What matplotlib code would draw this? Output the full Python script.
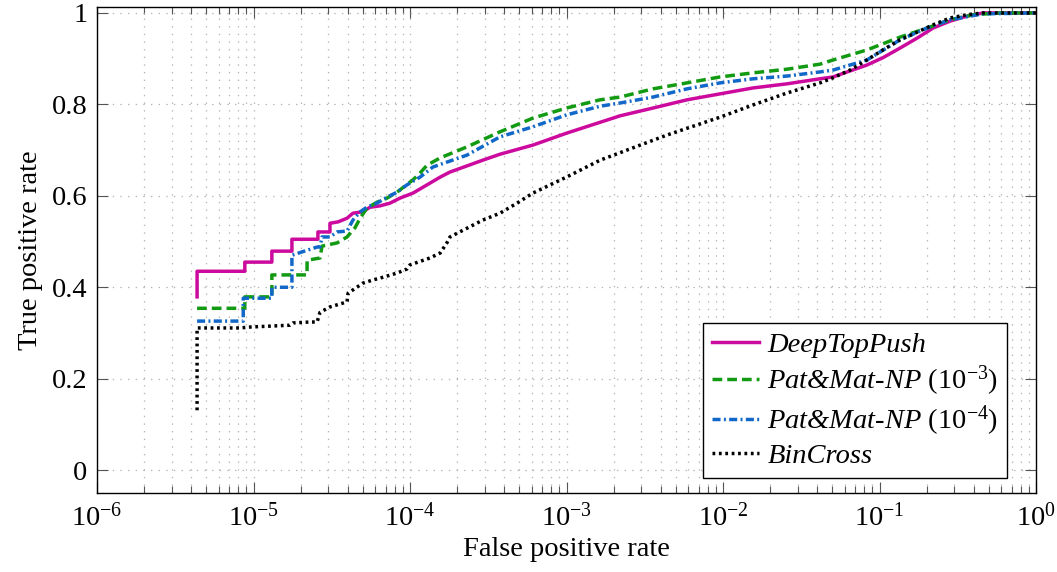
import matplotlib
matplotlib.use("Agg")
import matplotlib.pyplot as plt
from matplotlib.ticker import LogLocator, FixedLocator, FixedFormatter, NullFormatter

# ---------------- data ----------------
dtp_fpr = [4.36e-6, 4.36e-6, 8.8e-6, 8.8e-6, 1.31e-5, 1.31e-5, 1.76e-5, 1.76e-5,
           2.58e-5, 2.58e-5, 3.08e-5, 3.08e-5, 3.47e-5, 3.96e-5, 4.32e-5, 5.0e-5,
           5.55e-5, 6.43e-5, 7.45e-5, 8.63e-5, 1.045e-4, 1.285e-4, 1.56e-4, 1.8e-4,
           2.92e-4, 3.76e-4, 6.1e-4, 1.0e-3, 2.2e-3, 3.57e-3, 5.89e-3, 9.57e-3,
           1.56e-2, 2.57e-2, 4.17e-2, 5.04e-2, 8.3e-2, 0.105, 0.135, 0.174, 0.22,
           0.282, 0.362, 0.458, 1.0]
dtp_tpr = [0.379, 0.435, 0.435, 0.455, 0.455, 0.479, 0.479, 0.505,
           0.505, 0.521, 0.521, 0.540, 0.543, 0.551, 0.562, 0.565,
           0.575, 0.578, 0.584, 0.595, 0.606, 0.624, 0.641, 0.652,
           0.678, 0.691, 0.711, 0.737, 0.775, 0.792, 0.810, 0.823,
           0.836, 0.845, 0.856, 0.860, 0.886, 0.902, 0.923, 0.945, 0.967,
           0.982, 0.993, 1.0, 1.0]

pm3_fpr = [4.36e-6, 8.8e-6, 8.8e-6, 1.31e-5, 1.31e-5, 2.2e-5, 2.2e-5, 2.66e-5,
           2.74e-5, 3.42e-5, 3.96e-5, 4.45e-5, 4.8e-5, 5.3e-5, 6.15e-5, 7.13e-5,
           8.26e-5, 1.045e-4, 1.16e-4, 1.285e-4, 1.56e-4, 2.31e-4, 3.76e-4, 6.1e-4,
           1.0e-3, 1.64e-3, 2.2e-3, 3.57e-3, 5.89e-3, 9.57e-3, 1.56e-2, 2.57e-2,
           4.17e-2, 5.04e-2, 8.3e-2, 0.135, 0.201, 0.282, 0.395, 0.589, 1.0]
pm3_tpr = [0.354, 0.354, 0.379, 0.379, 0.427, 0.427, 0.459, 0.464,
           0.490, 0.497, 0.510, 0.530, 0.551, 0.573, 0.586, 0.595,
           0.608, 0.635, 0.650, 0.667, 0.683, 0.707, 0.740, 0.770,
           0.792, 0.810, 0.816, 0.834, 0.847, 0.860, 0.869, 0.877,
           0.888, 0.897, 0.919, 0.947, 0.967, 0.985, 0.996, 1.0, 1.0]

pm4_fpr = [4.36e-6, 8.6e-6, 8.6e-6, 1.31e-5, 1.31e-5, 1.76e-5, 1.76e-5, 2.07e-5,
           2.55e-5, 2.66e-5, 2.74e-5, 3.08e-5, 3.42e-5, 3.96e-5, 4.32e-5, 4.8e-5,
           5.3e-5, 6.15e-5, 7.13e-5, 8.26e-5, 9.57e-5, 1.16e-4, 1.40e-4, 2.31e-4,
           3.76e-4, 6.1e-4, 1.0e-3, 1.64e-3, 2.2e-3, 3.57e-3, 5.89e-3, 9.57e-3,
           1.56e-2, 2.57e-2, 4.17e-2, 5.04e-2, 8.3e-2, 0.135, 0.201, 0.282, 0.458, 1.0]
pm4_tpr = [0.326, 0.326, 0.376, 0.376, 0.400, 0.400, 0.470, 0.478,
           0.488, 0.488, 0.510, 0.510, 0.521, 0.523, 0.547, 0.565,
           0.575, 0.584, 0.597, 0.608, 0.624, 0.641, 0.663, 0.689,
           0.729, 0.751, 0.777, 0.796, 0.803, 0.816, 0.834, 0.847,
           0.856, 0.862, 0.871, 0.875, 0.897, 0.941, 0.967, 0.985, 0.998, 1.0]

bc_fpr = [4.36e-6, 4.36e-6, 8.2e-6, 9.5e-6, 1.71e-5, 1.79e-5, 2.3e-5, 2.55e-5,
          2.66e-5, 3.08e-5, 3.96e-5, 4.02e-5, 5.0e-5, 5.8e-5, 6.43e-5, 8.26e-5,
          9.57e-5, 1.0e-4, 1.34e-4, 1.56e-4, 1.72e-4, 1.8e-4, 2.92e-4, 3.76e-4,
          4.83e-4, 6.1e-4, 1.0e-3, 1.64e-3, 2.66e-3, 4.39e-3, 9.57e-3, 1.56e-2,
          2.57e-2, 4.17e-2, 5.04e-2, 6.48e-2, 8.3e-2, 0.105, 0.135, 0.174, 0.22,
          0.282, 0.362, 0.458, 1.0]
bc_tpr = [0.131, 0.311, 0.311, 0.313, 0.317, 0.322, 0.324, 0.324,
          0.345, 0.357, 0.368, 0.387, 0.409, 0.416, 0.420, 0.431,
          0.440, 0.449, 0.464, 0.475, 0.497, 0.510, 0.547, 0.562,
          0.584, 0.606, 0.641, 0.678, 0.705, 0.733, 0.772, 0.799,
          0.825, 0.847, 0.858, 0.875, 0.897, 0.919, 0.941, 0.958, 0.974,
          0.989, 0.996, 1.0, 1.0]

series_labels = ["DeepTopPush", r"Pat&Mat-NP $(10^{-3})$",
                 r"Pat&Mat-NP $(10^{-4})$", "BinCross"]
ytick_vals = [0, 0.2, 0.4, 0.6, 0.8, 1.0]
ytick_labels = ["0", "0.2", "0.4", "0.6", "0.8", "1"]
x_label = "False positive rate"
y_label = "True positive rate"

# ---------------- style ----------------
plt.rcParams["font.family"] = ["Liberation Serif", "DejaVu Serif"]
plt.rcParams["mathtext.fontset"] = "custom"
plt.rcParams["mathtext.rm"] = "Liberation Serif"
plt.rcParams["mathtext.it"] = "Liberation Serif:italic"
plt.rcParams["mathtext.bf"] = "Liberation Serif:bold"
plt.rcParams["lines.scale_dashes"] = False
FS = 20.5

fig = plt.figure(figsize=(10.57, 5.72), dpi=100)
ax = fig.add_axes([97 / 1057, 1 - 493 / 572, (1036 - 97) / 1057, (493 - 7) / 572])

c_mag = "#cc0a9e"
c_grn = "#129a12"
c_blu = "#1168c8"
c_blk = "#000000"
lw = 2.5

ax.plot(dtp_fpr, dtp_tpr, color=c_mag, lw=lw, label=series_labels[0], zorder=3)
ax.plot(pm3_fpr, pm3_tpr, color=c_grn, lw=lw, dashes=(7, 3.6),
        label=series_labels[1], zorder=4)
ax.plot(pm4_fpr, pm4_tpr, color=c_blu, lw=lw, dashes=(5.8, 2.4, 1.4, 2.4),
        label=series_labels[2], zorder=5)
ax.plot(bc_fpr, bc_tpr, color=c_blk, lw=lw, dashes=(2.0, 2.6),
        label=series_labels[3], zorder=6)

ax.set_xscale("log")
ax.set_xlim(1e-6, 1.0)
ax.set_ylim(-0.05, 1.013)
ax.xaxis.set_major_locator(LogLocator(base=10, numticks=20))
ax.xaxis.set_minor_locator(LogLocator(base=10, subs=range(2, 10), numticks=100))
ax.xaxis.set_minor_formatter(NullFormatter())
ax.yaxis.set_major_locator(FixedLocator(ytick_vals))
ax.yaxis.set_major_formatter(FixedFormatter(ytick_labels))

grid_kw = dict(color="#b4b4b4", linestyle=(0, (1, 4.5)), linewidth=0.9)
ax.grid(True, which="major", axis="both", **grid_kw)
ax.grid(True, which="minor", axis="x", **grid_kw)
ax.set_axisbelow(True)

for s in ax.spines.values():
    s.set_linewidth(1.0)
    s.set_color("black")

ax.tick_params(which="both", direction="in", top=True, right=True,
               labelsize=FS, color="#555555")
ax.tick_params(which="major", length=8, width=0.8, pad=7)
ax.tick_params(which="minor", length=5, width=0.8)

ax.set_xlabel(x_label, fontsize=FS, labelpad=4)
ax.set_ylabel(y_label, fontsize=FS, labelpad=6)

leg = ax.legend(loc="lower right", bbox_to_anchor=((1007 - 97) / 939, (493 - 478) / 486),
                borderaxespad=0, prop={"style": "italic", "size": FS},
                frameon=True, fancybox=False, framealpha=1, edgecolor="black",
                handlelength=1.65, handletextpad=0.3, labelspacing=0.2,
                borderpad=0.3)
leg.get_frame().set_linewidth(1.0)

fig.savefig("out.png", dpi=100)
